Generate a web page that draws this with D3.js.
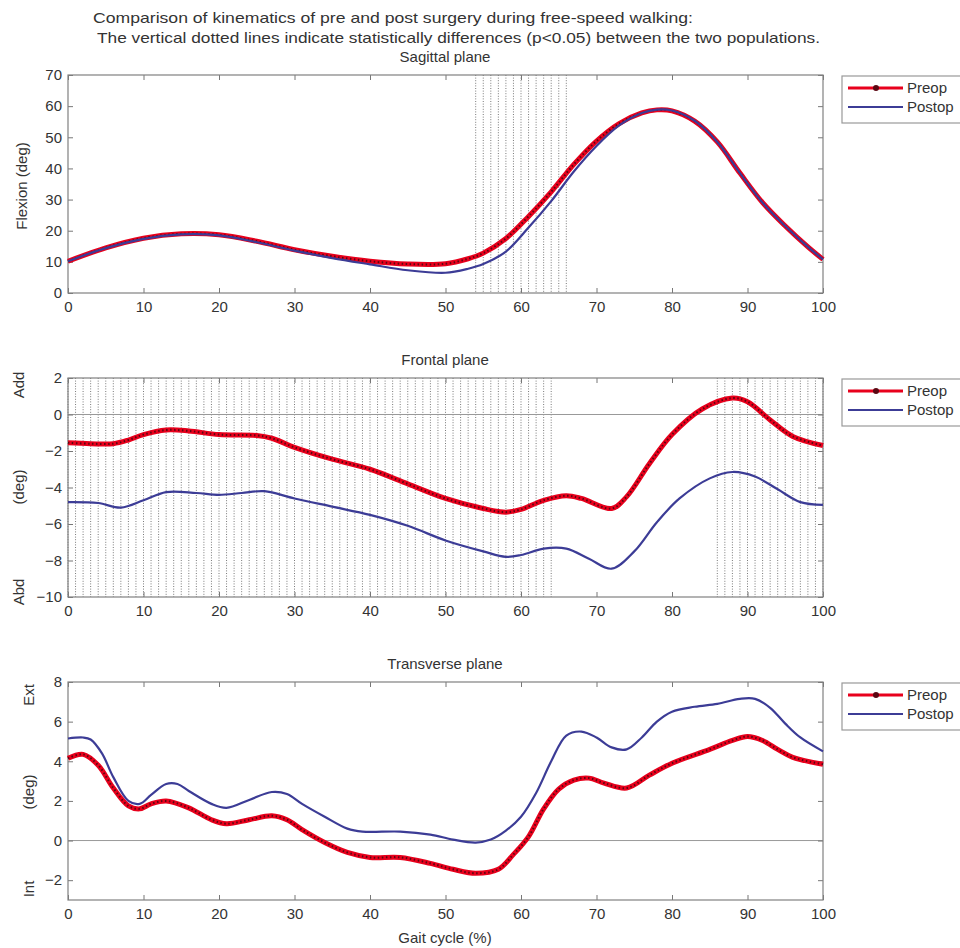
<!DOCTYPE html>
<html>
<head>
<meta charset="utf-8">
<script src="https://cdn.jsdelivr.net/npm/d3@7"></script>
<style>
  body { margin: 0; background: #fff; }
  svg text { font-family: "Liberation Sans", Arial, sans-serif; fill: #333; }
</style>
</head>
<body>
<div id="chart"></div>
<script>
// --- data (gait cycle %, degrees) ---
const xTicks = [0, 10, 20, 30, 40, 50, 60, 70, 80, 90, 100];

// Sagittal plane
const sagPreopX = [0, 5, 10, 15, 20, 25, 30, 35, 40, 45, 50, 53, 55, 58, 61, 64, 67, 70, 73, 76, 78, 80, 83, 86, 89, 92, 95, 98, 100];
const sagPreop = [10.2, 14.5, 17.6, 19.0, 18.7, 16.6, 13.9, 11.8, 10.2, 9.3, 9.4, 11.0, 12.8, 17.5, 24.6, 32.5, 41.3, 48.8, 54.4, 57.8, 58.8, 58.5, 55.2, 48.5, 38.5, 29.0, 21.5, 14.8, 10.8];
const sagPostopX = [0, 5, 10, 15, 20, 25, 30, 35, 40, 45, 50, 53, 55, 58, 61, 64, 67, 70, 73, 76, 78, 80, 83, 86, 89, 92, 95, 98, 100];
const sagPostop = [10.2, 14.4, 17.4, 18.8, 18.5, 16.3, 13.6, 11.2, 9.2, 7.3, 6.5, 7.8, 9.3, 13.3, 21.0, 29.5, 39.0, 47.2, 53.8, 57.8, 58.9, 58.6, 55.3, 48.5, 38.5, 29.0, 21.5, 14.8, 10.8];
const sagTicks = [0, 10, 20, 30, 40, 50, 60, 70];
const sagSig = [[54, 66]];

// Frontal plane
const frontPreopX = [0, 3, 6, 8, 10, 13, 16, 20, 25, 27, 30, 35, 40, 45, 50, 55, 58, 60, 63, 66, 68, 72, 74, 77, 80, 84, 88, 90, 93, 96, 100];
const frontPreop = [-1.55, -1.6, -1.6, -1.4, -1.1, -0.85, -0.9, -1.1, -1.15, -1.3, -1.8, -2.45, -3.0, -3.8, -4.6, -5.15, -5.35, -5.2, -4.7, -4.45, -4.6, -5.15, -4.5, -2.7, -1.1, 0.3, 0.9, 0.7, -0.3, -1.2, -1.7];
const frontPostopX = [0, 4, 7, 10, 13, 17, 20, 23, 26, 30, 35, 40, 45, 50, 55, 58, 60, 63, 66, 69, 72, 75, 78, 81, 85, 88, 91, 94, 97, 100];
const frontPostop = [-4.8, -4.85, -5.1, -4.7, -4.25, -4.3, -4.4, -4.3, -4.2, -4.6, -5.05, -5.5, -6.1, -6.9, -7.5, -7.8, -7.7, -7.35, -7.35, -7.9, -8.45, -7.5, -5.9, -4.6, -3.5, -3.15, -3.4, -4.1, -4.8, -4.95];
const frontTicks = [-10, -8, -6, -4, -2, 0, 2];
const frontSig = [[0, 64], [86, 100]];

// Transverse plane
const transPreopX = [0, 2, 4, 6, 8, 9.5, 11, 13, 16, 19, 21, 24, 27, 29, 31, 34, 37, 40, 44, 48, 51, 54, 57, 59, 61, 63, 65, 67, 69, 71, 74, 77, 80, 85, 88, 90, 92, 94, 96, 100];
const transPreop = [4.15, 4.35, 3.8, 2.65, 1.75, 1.6, 1.85, 2.0, 1.65, 1.05, 0.85, 1.05, 1.25, 1.05, 0.55, -0.1, -0.6, -0.85, -0.85, -1.15, -1.45, -1.65, -1.45, -0.7, 0.2, 1.6, 2.6, 3.05, 3.15, 2.9, 2.65, 3.3, 3.9, 4.6, 5.05, 5.25, 5.05, 4.6, 4.2, 3.85];
const transPostopX = [0, 2, 3, 4.5, 6, 8, 9.5, 11, 13, 14.5, 16, 19, 21, 24, 27, 29, 31, 34, 37, 39, 44, 48, 51, 54, 56, 58, 60, 62, 64, 66, 68, 70, 72, 74, 76, 78, 80, 83, 86, 89, 91, 93, 95, 97, 100];
const transPostop = [5.15, 5.2, 5.1, 4.4, 3.2, 2.0, 1.85, 2.3, 2.85, 2.85, 2.5, 1.85, 1.65, 2.05, 2.45, 2.35, 1.85, 1.2, 0.6, 0.45, 0.45, 0.3, 0.05, -0.1, 0.05, 0.5, 1.2, 2.4, 4.0, 5.3, 5.5, 5.2, 4.7, 4.6, 5.2, 6.0, 6.5, 6.75, 6.9, 7.15, 7.15, 6.7, 5.9, 5.2, 4.5];
const transTicks = [-2, 0, 2, 4, 6, 8];
const transSig = [];

const legendLabels = ["Preop", "Postop"];

// --- layout ---
const W = 960, H = 948;
const xLeft = 68, xRight = 823;

const svg = d3.select("#chart").append("svg")
    .attr("width", W)
    .attr("height", H);

const x = d3.scaleLinear().domain([0, 100]).range([xLeft, xRight]);

const panels = [
    {top: 75, bottom: 293, domain: [0, 70], ticks: sagTicks, sig: sagSig, zero: false, title: "Sagittal plane",
     pre: [sagPreopX, sagPreop], post: [sagPostopX, sagPostop]},
    {top: 378, bottom: 597, domain: [-10, 2], ticks: frontTicks, sig: frontSig, zero: true, title: "Frontal plane",
     pre: [frontPreopX, frontPreop], post: [frontPostopX, frontPostop]},
    {top: 682, bottom: 900, domain: [-3, 8], ticks: transTicks, sig: transSig, zero: true, title: "Transverse plane",
     pre: [transPreopX, transPreop], post: [transPostopX, transPostop]}
];

// Title
svg.append("text").attr("x", 93).attr("y", 23).attr("font-size", 15)
    .attr("textLength", 600).attr("lengthAdjust", "spacingAndGlyphs")
    .text("Comparison of kinematics of pre and post surgery during free-speed walking:");
svg.append("text").attr("x", 97).attr("y", 43).attr("font-size", 15)
    .attr("textLength", 723).attr("lengthAdjust", "spacingAndGlyphs")
    .text("The vertical dotted lines indicate statistically differences (p<0.05) between the two populations.");

const redColor = "#e8001c";
const blueColor = "#3c3c96";

panels.forEach((p, i) => {
    const y = d3.scaleLinear().domain(p.domain).range([p.bottom, p.top]);
    const g = svg.append("g");

    // significance dotted lines (one per % of cycle)
    p.sig.forEach(([a, b]) => {
        g.selectAll(null)
            .data(d3.range(a, b + 1))
            .enter().append("line")
            .attr("x1", d => x(d)).attr("x2", d => x(d))
            .attr("y1", p.top).attr("y2", p.bottom)
            .attr("stroke", "#7a7a7a")
            .attr("stroke-width", 1)
            .attr("stroke-dasharray", "1,1.6");
    });

    if (p.zero) {
        g.append("line")
            .attr("x1", xLeft).attr("x2", xRight)
            .attr("y1", y(0)).attr("y2", y(0))
            .attr("stroke", "#999").attr("stroke-width", 1);
    }

    // axes
    const ax = g.append("g").attr("transform", `translate(0,${p.bottom})`)
        .call(d3.axisBottom(x).tickValues(xTicks).tickSizeInner(-5).tickSizeOuter(0).tickPadding(8));
    const ay = g.append("g").attr("transform", `translate(${xLeft},0)`)
        .call(d3.axisLeft(y).tickValues(p.ticks).tickSizeInner(-5).tickSizeOuter(0).tickPadding(6));
    const axT = g.append("g").attr("transform", `translate(0,${p.top})`)
        .call(d3.axisTop(x).tickValues(xTicks).tickSizeInner(-5).tickSizeOuter(0).tickFormat(""));
    const ayR = g.append("g").attr("transform", `translate(${xRight},0)`)
        .call(d3.axisRight(y).tickValues(p.ticks).tickSizeInner(-5).tickSizeOuter(0).tickFormat(""));
    [ax, ay, axT, ayR].forEach(a => {
        a.select(".domain").remove();
        a.selectAll(".tick line").attr("stroke", "#777");
        a.selectAll(".tick text").attr("font-size", 15).attr("font-family", "Liberation Sans, Arial, sans-serif").attr("fill", "#333");
    });

    g.append("rect")
        .attr("x", xLeft).attr("y", p.top)
        .attr("width", xRight - xLeft).attr("height", p.bottom - p.top)
        .attr("fill", "none").attr("stroke", "#808080").attr("stroke-width", 1.2);

    // panel title
    g.append("text").attr("x", 445).attr("y", p.top - 13)
        .attr("text-anchor", "middle").attr("font-size", 15).text(p.title);

    // curves
    const line = d3.line().x(d => x(d[0])).y(d => y(d[1])).curve(d3.curveCatmullRom.alpha(0.5));
    const postPts = d3.zip(p.post[0], p.post[1]);
    const prePts = d3.zip(p.pre[0], p.pre[1]);

    g.append("path").datum(prePts).attr("d", line)
        .attr("fill", "none").attr("stroke", redColor).attr("stroke-width", 5).attr("stroke-linejoin", "round");
    g.append("path").datum(prePts).attr("d", line)
        .attr("fill", "none").attr("stroke", "#5a0712").attr("stroke-width", 2)
        .attr("stroke-dasharray", "1.5,2.5");
    g.append("path").datum(postPts).attr("d", line)
        .attr("fill", "none").attr("stroke", blueColor).attr("stroke-width", 2.2);

    // legend
    const lg = g.append("g").attr("transform", `translate(842,${p.top + 1})`);
    lg.append("rect").attr("width", 140).attr("height", 47)
        .attr("fill", "#fff").attr("stroke", "#999").attr("stroke-width", 1.2);
    lg.append("line").attr("x1", 6).attr("x2", 61).attr("y1", 12).attr("y2", 12)
        .attr("stroke", redColor).attr("stroke-width", 3);
    lg.append("circle").attr("cx", 34).attr("cy", 12).attr("r", 3).attr("fill", "#5a0712");
    lg.append("line").attr("x1", 6).attr("x2", 61).attr("y1", 31).attr("y2", 31)
        .attr("stroke", blueColor).attr("stroke-width", 2);
    lg.selectAll("text.lab").data(legendLabels).enter().append("text")
        .attr("class", "lab")
        .attr("x", 65).attr("y", (d, k) => 12 + k * 19).attr("dy", "0.35em")
        .attr("font-size", 15).text(d => d);
});

// y labels
function yLabel(txt, cx, cy) {
    svg.append("text")
        .attr("transform", `translate(${cx},${cy}) rotate(-90)`)
        .attr("text-anchor", "middle").attr("dy", "0.35em")
        .attr("font-size", 15).text(txt);
}
yLabel("Flexion (deg)", 22, 186);
yLabel("Add", 19, 385);
yLabel("(deg)", 19, 487);
yLabel("Abd", 19, 592);
yLabel("Ext", 29, 695);
yLabel("(deg)", 29, 792);
yLabel("Int", 29, 889);

svg.append("text").attr("x", 445).attr("y", 943)
    .attr("text-anchor", "middle").attr("font-size", 15).text("Gait cycle (%)");
</script>
</body>
</html>
